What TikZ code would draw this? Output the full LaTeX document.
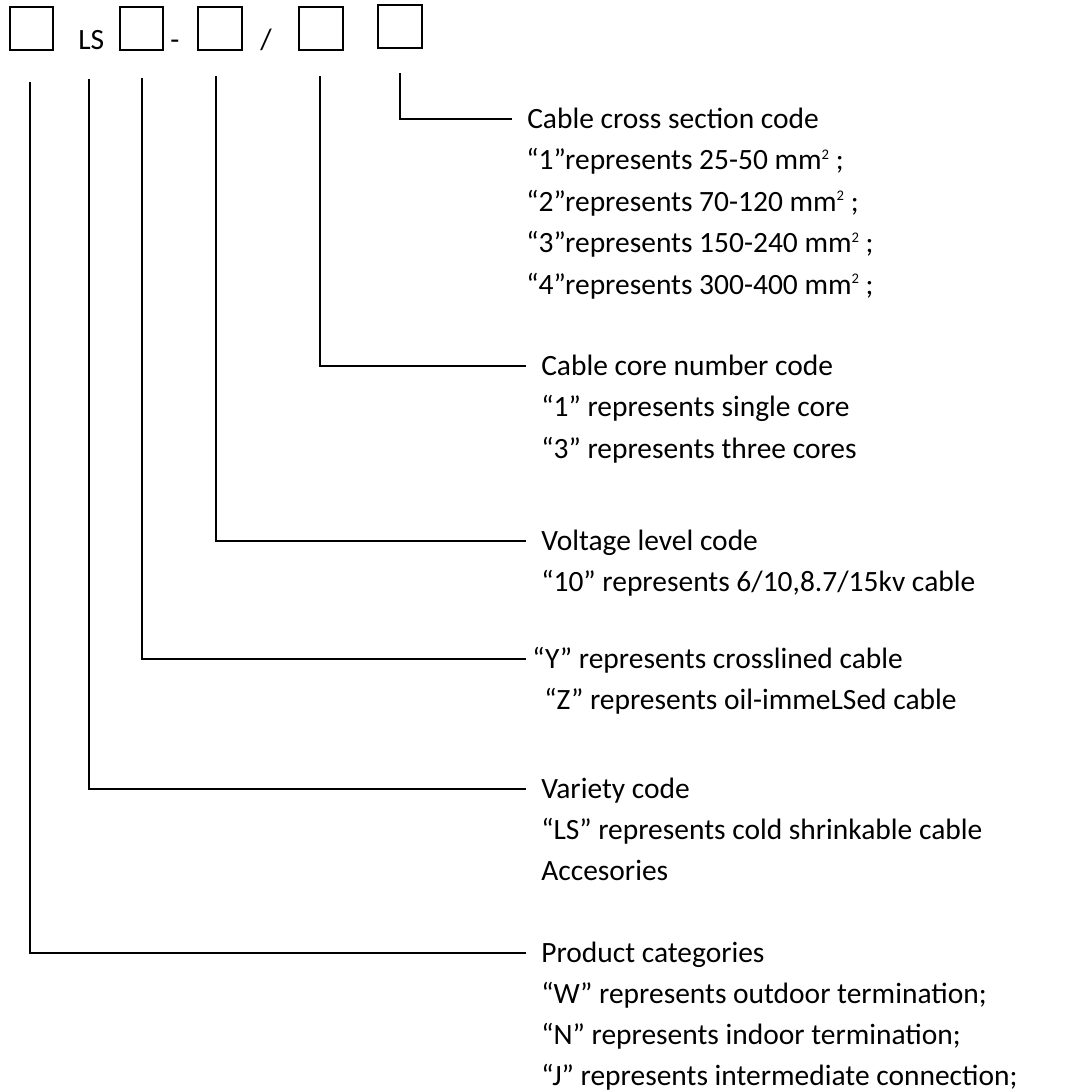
\documentclass[tikz,border=0pt]{standalone}
\usepackage{fontspec}
\setmainfont{Carlito}
\newcommand{\codeFont}{\fontsize{22.1}{26}\selectfont}
\newcommand{\sqr}{\raisebox{8pt}{\fontsize{11}{11}\selectfont 2}}
\begin{document}
\begin{tikzpicture}
% Code designation drawn in pixel units
\def\px{0.75pt}
\providecommand{\codeLineWidth}{1.5pt}
\providecommand{\codeBoxSize}{32.6pt}
\begin{scope}[x=\px, y=-\px]
  \useasboundingbox (0,0) rectangle (1065,1092);
  % Code boxes
  \begin{scope}[every node/.style={draw, line width=\codeLineWidth, minimum size=\codeBoxSize, inner sep=0pt}]
    \node (b1) at (31.5,28.5) {};
    \node (b2) at (141.5,28.5) {};
    \node (b3) at (220,28.5) {};
    \node (b4) at (321,28.5) {};
    \node (b5) at (400,26.5) {};
  \end{scope}
  % Fixed letters and separators
  \begin{scope}[every node/.style={font=\codeFont, inner sep=0pt, text height=14.1pt, text depth=0pt}]
    \node[anchor=west] (ls) at (78,40) {LS};
    \node (dash) at (175,40) {-};
    \node (slash) at (266,40) {/};
  \end{scope}
  % Descriptions
  \begin{scope}[every node/.style={anchor=west, font=\codeFont, inner sep=0pt, text height=14.1pt, text depth=0pt}]
    \node (cs0) at (527,119) {Cable cross section code};
    \node (cs1) at (526,160.5) {“1”represents 25-50 mm\sqr\ ;};
    \node (cs2) at (526,202) {“2”represents 70-120 mm\sqr\ ;};
    \node (cs3) at (526,243.5) {“3”represents 150-240 mm\sqr\ ;};
    \node (cs4) at (526,285) {“4”represents 300-400 mm\sqr\ ;};
    \node (cn0) at (541,366) {Cable core number code};
    \node (cn1) at (541,407.5) {“1” represents single core};
    \node (cn2) at (541,449) {“3” represents three cores};
    \node (vl0) at (541,541) {Voltage level code};
    \node (vl1) at (541,582.5) {“10” represents 6/10,8.7/15kv cable};
    \node (ct0) at (532,659) {“Y” represents crosslined cable};
    \node (ct1) at (544,700.5) {“Z” represents oil-immeLSed cable};
    \node (vc0) at (541,789) {Variety code};
    \node (vc1) at (541,830) {“LS” represents cold shrinkable cable};
    \node (vc2) at (541,871) {Accesories};
    \node (pc0) at (541,953) {Product categories};
    \node (pc1) at (541,994) {“W” represents outdoor termination;};
    \node (pc2) at (541,1035) {“N” represents indoor termination;};
    \node (pc3) at (541,1076) {“J” represents intermediate connection;};
  \end{scope}
  % Leader lines
  \begin{scope}[line width=\codeLineWidth, shorten >=11pt]
    \coordinate (t1) at (30,82);
    \coordinate (t2) at (89,79);
    \coordinate (t3) at (142,78);
    \coordinate (t4) at (216,76);
    \coordinate (t5) at (320,76);
    \coordinate (t6) at (400,73);
    \draw (t6) |- (cs0.west);
    \draw (t5) |- (cn0.west);
    \draw (t4) |- (vl0.west);
    \draw[shorten >=4.5pt] (t3) |- (ct0.west);
    \draw (t2) |- (vc0.west);
    \draw (t1) |- (pc0.west);
  \end{scope}
\end{scope}
\end{tikzpicture}
\end{document}
